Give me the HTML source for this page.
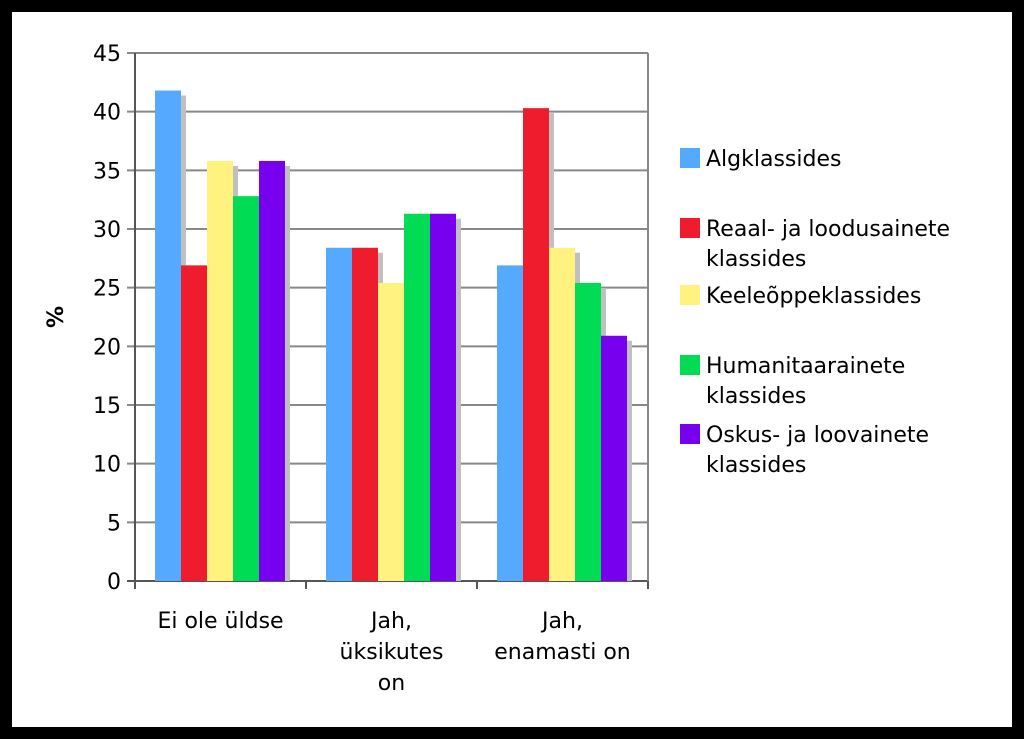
<!DOCTYPE html>
<html><head><meta charset="utf-8"><style>
html,body{margin:0;padding:0;background:#000;}
svg{display:block;}
text{font-family:"DejaVu Sans","Liberation Sans",sans-serif;fill:#000;}
</style></head><body>
<svg width="1024" height="739">
<rect x="12" y="12" width="1000" height="715" fill="#fff"/>
<g id="plot"></g>
<g id="legend"></g>
</svg>
<script>
const categories=[["Ei ole üldse"],["Jah,","üksikutes","on"],["Jah,","enamasti on"]];
const seriesNames=[["Algklassides"],["Reaal- ja loodusainete","klassides"],["Keeleõppeklassides"],["Humanitaarainete","klassides"],["Oskus- ja loovainete","klassides"]];
const colors=["#55aaff","#ee1c2c","#fff27f","#00dd55","#7700ee"];
const algklassides=[41.8,28.4,26.9];
const reaal=[26.9,28.4,40.3];
const keele=[35.8,25.4,28.4];
const humanitaar=[32.8,31.3,25.4];
const oskus=[35.8,31.3,20.9];
const yTicks=[0,5,10,15,20,25,30,35,40,45];
const series=[algklassides,reaal,keele,humanitaar,oskus];
const NS="http://www.w3.org/2000/svg";
const X0=135,X1=648,Y0=581,Y1=53,YMAX=45;
const y=v=>Y0-(v/YMAX)*(Y0-Y1);
const gw=(X1-X0)/categories.length, bw=26;
const plot=document.getElementById('plot');
function mk(t,a,p){const e=document.createElementNS(NS,t);for(const k in a)e.setAttribute(k,a[k]);(p||plot).appendChild(e);return e;}
yTicks.forEach(t=>{
 const l=mk('line',{x1:X0-8,x2:X1,y1:y(t),y2:y(t),stroke:t===0?'#555':'#888','stroke-width':2});
 
 
 const tx=mk('text',{x:X0-14,y:y(t)+8,'text-anchor':'end','font-size':22});
 tx.textContent=t;
 
 
});
mk('line',{x1:X1,x2:X1,y1:Y1,y2:Y0,stroke:'#888','stroke-width':2});
const ax=mk('line',{x1:X0,x2:X0,y1:Y1,y2:Y0+8,stroke:'#555','stroke-width':2});


for(let i=0;i<=categories.length;i++){mk('line',{x1:X0+i*gw,x2:X0+i*gw,y1:Y0,y2:Y0+8,stroke:'#555','stroke-width':2});}
categories.forEach((c,i)=>{
 const gx=X0+i*gw+20;
 series.forEach((s,j)=>{
  const bx=gx+j*bw, by=y(s[i]);
  mk('rect',{x:bx+5,y:by+5,width:bw,height:Y0-by-5,fill:'#c0c0c0'});
 });
 series.forEach((s,j)=>{
  const bx=gx+j*bw, by=y(s[i]);
  const r=mk('rect',{x:bx,y:by,width:bw,height:Y0-by,fill:colors[j]});
  
  
 });
 const t=mk('text',{x:X0+i*gw+gw/2,y:628,'text-anchor':'middle','font-size':22});
 
 
 c.forEach((ln,k)=>{const ts=mk('tspan',{x:X0+i*gw+gw/2,dy:k?31:0},t);ts.textContent=ln;});
});
const yt=mk('text',{x:0,y:0,'text-anchor':'middle','font-size':22,'font-weight':'bold',transform:'translate(63,317) rotate(-90)'});
yt.textContent='%';


const lg=document.getElementById('legend');
const ly=[165,235,302,372,441];
seriesNames.forEach((n,j)=>{
 const g=mk('g',{},lg);
 
 
 mk('rect',{x:680,y:ly[j]-17,width:20,height:20,fill:colors[j]},g);
 const t=mk('text',{x:706,y:ly[j]+1,'font-size':22},g);
 n.forEach((ln,k)=>{const ts=mk('tspan',{x:706,dy:k?30:0},t);ts.textContent=ln;});
});
</script>
</body></html>
